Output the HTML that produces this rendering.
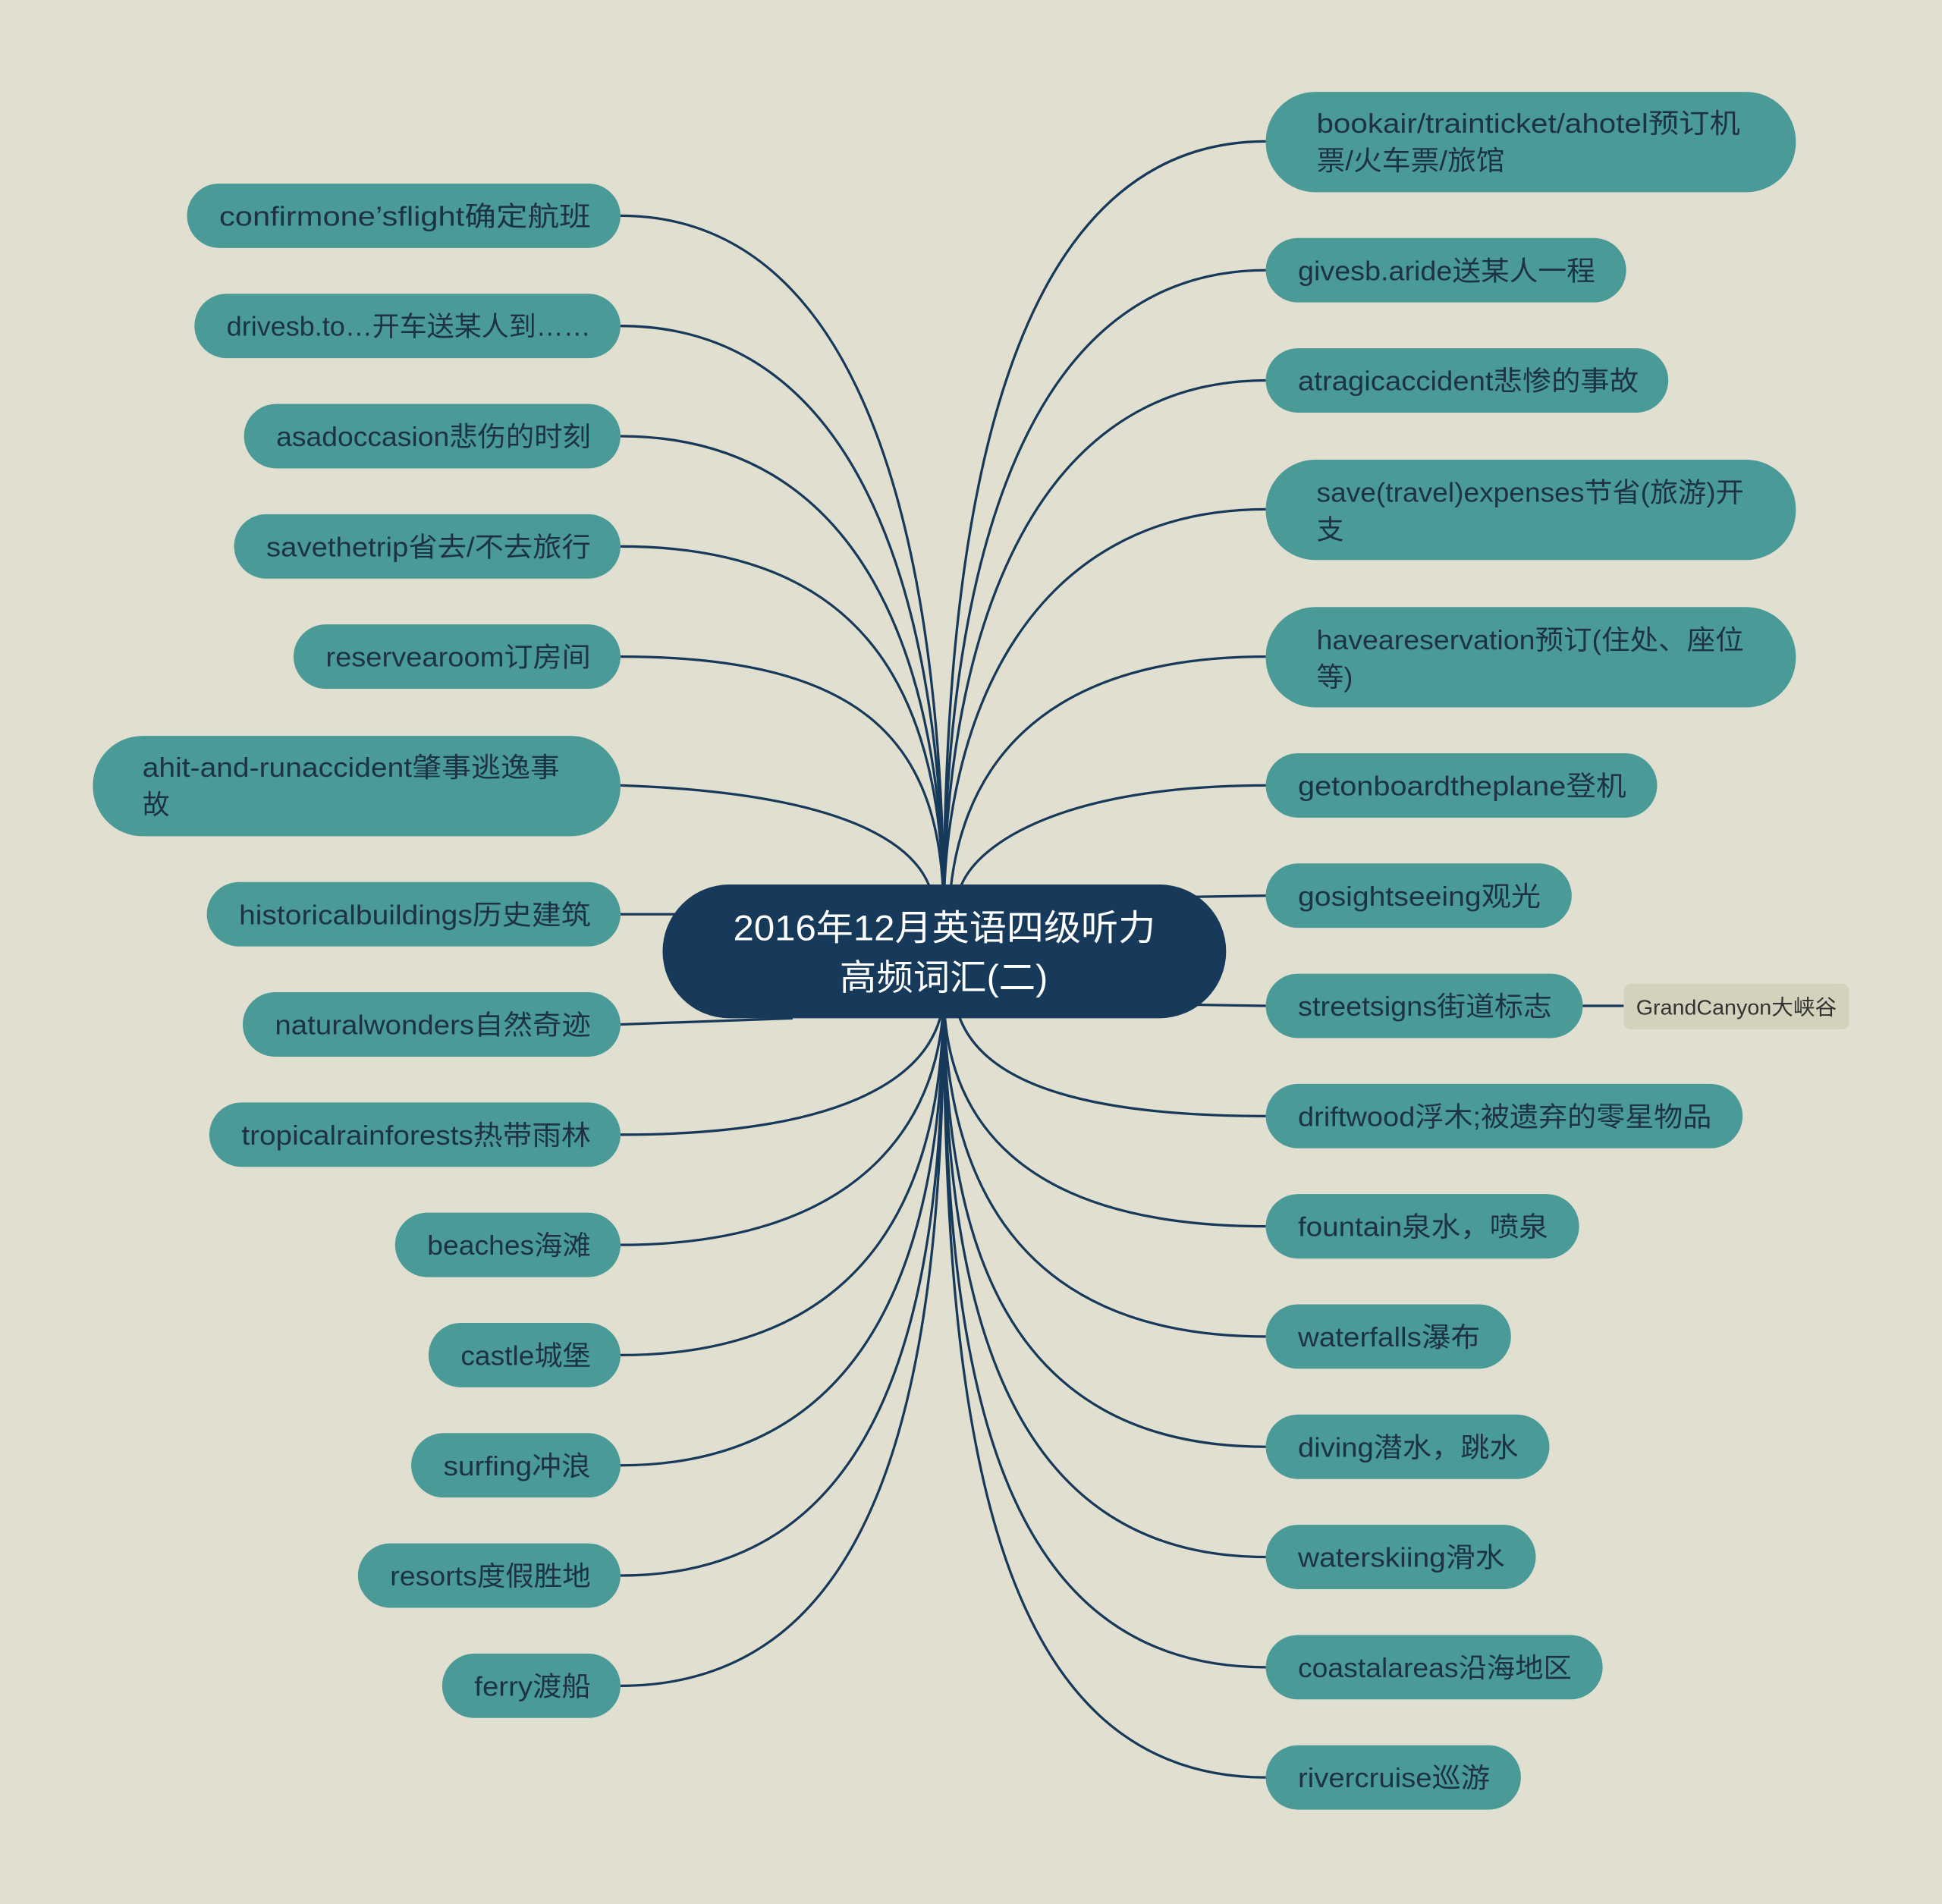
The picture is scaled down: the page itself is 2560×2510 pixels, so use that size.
<!DOCTYPE html>
<html><head><meta charset="utf-8"><style>
html,body{margin:0;padding:0;background:#e0dfd0;}
svg{display:block}
text{font-family:"Liberation Sans","Noto Sans CJK SC",sans-serif;}
</style></head><body>
<svg width="2560" height="2510" viewBox="0 0 1568 1537" xmlns="http://www.w3.org/2000/svg">
<rect width="1568" height="1537" fill="#e0dfd0"/>
<g fill="none" stroke="#173a5a" stroke-width="2">
<path d="M501 174 C720 174 762 500 762 740"/>
<path d="M501 263 C710 263 762 520 762 740"/>
<path d="M501 352 C700 352 762 540 762 740"/>
<path d="M501 441 C700 441 762 560 762 740"/>
<path d="M501 530 C700 530 762 600 762 740"/>
<path d="M501 634 C680 640 740 680 752 720"/>
<path d="M501 738 L560 738"/>
<path d="M501 827 L640 822"/>
<path d="M501 916 C700 916 762 860 762 800"/>
<path d="M501 1005 C700 1005 762 900 762 800"/>
<path d="M501 1094 C710 1094 762 950 762 800"/>
<path d="M501 1183 C710 1183 762 1000 762 800"/>
<path d="M501 1272 C720 1272 762 1050 762 800"/>
<path d="M501 1361 C720 1361 762 1100 762 800"/>
<path d="M1022 114 C800 114 762 450 762 740"/>
<path d="M1022 218 C810 218 762 500 762 740"/>
<path d="M1022 307 C820 307 762 540 762 740"/>
<path d="M1022 411 C830 411 762 580 762 740"/>
<path d="M1022 530 C840 530 770 620 766 740"/>
<path d="M1022 634 C860 634 790 680 776 715"/>
<path d="M1022 723 L960 724"/>
<path d="M1022 812 L960 811"/>
<path d="M1022 901 C840 901 775 860 770 800"/>
<path d="M1022 990 C820 990 762 900 762 800"/>
<path d="M1022 1079 C820 1079 762 950 762 800"/>
<path d="M1022 1168 C810 1168 762 1000 762 800"/>
<path d="M1022 1257 C810 1257 762 1050 762 800"/>
<path d="M1022 1346 C800 1346 762 1100 762 800"/>
<path d="M1022 1435 C800 1435 762 1150 762 800"/>
<path d="M1278 812 L1311 812"/>
</g>
<g fill="#4a9a98">
<rect x="151" y="148" width="350" height="52" rx="26"/>
<rect x="157" y="237" width="344" height="52" rx="26"/>
<rect x="197" y="326" width="304" height="52" rx="26"/>
<rect x="189" y="415" width="312" height="52" rx="26"/>
<rect x="237" y="504" width="264" height="52" rx="26"/>
<rect x="75" y="594" width="426" height="81" rx="40"/>
<rect x="167" y="712" width="334" height="52" rx="26"/>
<rect x="196" y="801" width="305" height="52" rx="26"/>
<rect x="169" y="890" width="332" height="52" rx="26"/>
<rect x="319" y="979" width="182" height="52" rx="26"/>
<rect x="346" y="1068" width="155" height="52" rx="26"/>
<rect x="332" y="1157" width="169" height="52" rx="26"/>
<rect x="289" y="1246" width="212" height="52" rx="26"/>
<rect x="357" y="1335" width="144" height="52" rx="26"/>
<rect x="1022" y="74" width="428" height="81" rx="40"/>
<rect x="1022" y="192" width="291" height="52" rx="26"/>
<rect x="1022" y="281" width="325" height="52" rx="26"/>
<rect x="1022" y="371" width="428" height="81" rx="40"/>
<rect x="1022" y="490" width="428" height="81" rx="40"/>
<rect x="1022" y="608" width="316" height="52" rx="26"/>
<rect x="1022" y="697" width="247" height="52" rx="26"/>
<rect x="1022" y="786" width="256" height="52" rx="26"/>
<rect x="1022" y="875" width="385" height="52" rx="26"/>
<rect x="1022" y="964" width="253" height="52" rx="26"/>
<rect x="1022" y="1053" width="198" height="52" rx="26"/>
<rect x="1022" y="1142" width="229" height="52" rx="26"/>
<rect x="1022" y="1231" width="218" height="52" rx="26"/>
<rect x="1022" y="1320" width="272" height="52" rx="26"/>
<rect x="1022" y="1409" width="206" height="52" rx="26"/>
</g>
<rect x="1311" y="794" width="182" height="37" rx="6" fill="#d3d2bc"/>
<text x="1321" y="819" font-size="17" fill="#333" textLength="162" lengthAdjust="spacingAndGlyphs">GrandCanyon大峡谷</text>
<rect x="535" y="714" width="455" height="108" rx="54" fill="#173a5a"/>
<text x="592" y="759" font-size="29" fill="#fff" textLength="341" lengthAdjust="spacingAndGlyphs">2016年12月英语四级听力</text>
<text x="678" y="799" font-size="29" fill="#fff" textLength="168" lengthAdjust="spacingAndGlyphs">高频词汇(二)</text>
<g font-size="22" fill="#1e3246" lengthAdjust="spacingAndGlyphs">
<text x="177" y="182" textLength="300" lengthAdjust="spacingAndGlyphs">confirmone’sflight确定航班</text>
<text x="183" y="271" textLength="294" lengthAdjust="spacingAndGlyphs">drivesb.to…开车送某人到……</text>
<text x="223" y="360" textLength="254" lengthAdjust="spacingAndGlyphs">asadoccasion悲伤的时刻</text>
<text x="215" y="449" textLength="262" lengthAdjust="spacingAndGlyphs">savethetrip省去/不去旅行</text>
<text x="263" y="538" textLength="214" lengthAdjust="spacingAndGlyphs">reservearoom订房间</text>
<text x="193" y="746" textLength="284" lengthAdjust="spacingAndGlyphs">historicalbuildings历史建筑</text>
<text x="222" y="835" textLength="255" lengthAdjust="spacingAndGlyphs">naturalwonders自然奇迹</text>
<text x="195" y="924" textLength="282" lengthAdjust="spacingAndGlyphs">tropicalrainforests热带雨林</text>
<text x="345" y="1013" textLength="132" lengthAdjust="spacingAndGlyphs">beaches海滩</text>
<text x="372" y="1102" textLength="105" lengthAdjust="spacingAndGlyphs">castle城堡</text>
<text x="358" y="1191" textLength="119" lengthAdjust="spacingAndGlyphs">surfing冲浪</text>
<text x="315" y="1280" textLength="162" lengthAdjust="spacingAndGlyphs">resorts度假胜地</text>
<text x="383" y="1369" textLength="94" lengthAdjust="spacingAndGlyphs">ferry渡船</text>
<text x="115" y="627" textLength="337" lengthAdjust="spacingAndGlyphs">ahit-and-runaccident肇事逃逸事</text>
<text x="115" y="657">故</text>
<text x="1063" y="107" textLength="342" lengthAdjust="spacingAndGlyphs">bookair/trainticket/ahotel预订机</text>
<text x="1063" y="137" textLength="152" lengthAdjust="spacingAndGlyphs">票/火车票/旅馆</text>
<text x="1048" y="226" textLength="240" lengthAdjust="spacingAndGlyphs">givesb.aride送某人一程</text>
<text x="1048" y="315" textLength="275" lengthAdjust="spacingAndGlyphs">atragicaccident悲惨的事故</text>
<text x="1063" y="405" textLength="345" lengthAdjust="spacingAndGlyphs">save(travel)expenses节省(旅游)开</text>
<text x="1063" y="435">支</text>
<text x="1063" y="524" textLength="345" lengthAdjust="spacingAndGlyphs">haveareservation预订(住处、座位</text>
<text x="1063" y="554">等)</text>
<text x="1048" y="642" textLength="265" lengthAdjust="spacingAndGlyphs">getonboardtheplane登机</text>
<text x="1048" y="731" textLength="196" lengthAdjust="spacingAndGlyphs">gosightseeing观光</text>
<text x="1048" y="820" textLength="205" lengthAdjust="spacingAndGlyphs">streetsigns街道标志</text>
<text x="1048" y="909" textLength="334" lengthAdjust="spacingAndGlyphs">driftwood浮木;被遗弃的零星物品</text>
<text x="1048" y="998" textLength="202" lengthAdjust="spacingAndGlyphs">fountain泉水，喷泉</text>
<text x="1048" y="1087" textLength="147" lengthAdjust="spacingAndGlyphs">waterfalls瀑布</text>
<text x="1048" y="1176" textLength="178" lengthAdjust="spacingAndGlyphs">diving潜水，跳水</text>
<text x="1048" y="1265" textLength="167" lengthAdjust="spacingAndGlyphs">waterskiing滑水</text>
<text x="1048" y="1354" textLength="221" lengthAdjust="spacingAndGlyphs">coastalareas沿海地区</text>
<text x="1048" y="1443" textLength="155" lengthAdjust="spacingAndGlyphs">rivercruise巡游</text>
</g>
</svg>
</body></html>
